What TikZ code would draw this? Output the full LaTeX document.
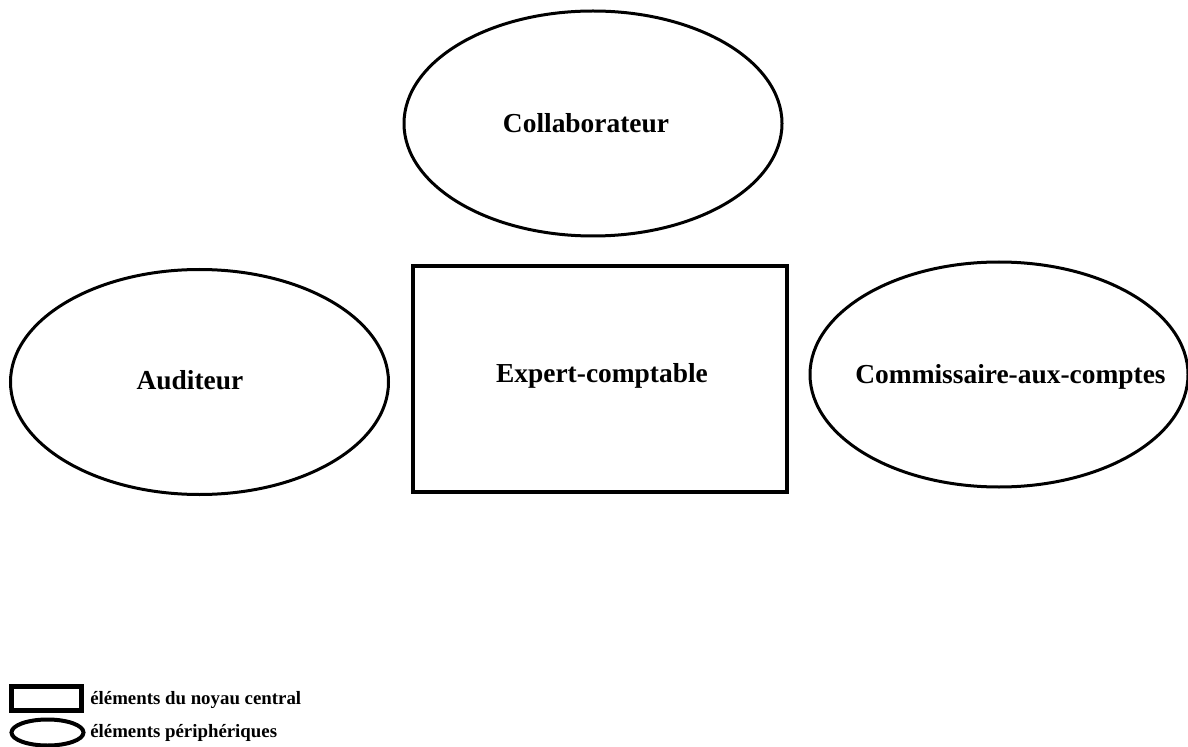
\documentclass[tikz,border=0pt]{standalone}
\usepackage{fontspec}
\setmainfont{Liberation Serif}
\usetikzlibrary{shapes,positioning}
\newlength{\px}
\setlength{\px}{0.025cm}
\tikzstyle{big}=[font=\fontsize{19.5}{23}\selectfont\bfseries,anchor=base,inner sep=0pt]
\tikzstyle{small}=[font=\fontsize{13.4}{15}\selectfont\bfseries,anchor=base west,inner sep=0pt]
\tikzstyle{core}=[draw,rectangle,line width=4\px,inner sep=0pt,minimum width=374\px,minimum height=226\px]
\tikzstyle{periph}=[draw,ellipse,line width=3\px,inner sep=0pt,minimum width=378\px,minimum height=225\px]

\begin{document}
\begin{tikzpicture}[x=\px,y=-\px]
  \useasboundingbox (0,0) rectangle (1188,747);

  % noyau central
  \node[core] at (600,379) (expert) {};
  \node[big] at (602,382) (expertt) {Expert-comptable};

  % elements peripheriques
  \node[periph] at (593,123.5) (collab) {};
  \node[big] at (586,133) (collabt) {Collaborateur};

  \node[periph] at (199.5,382) (audit) {};
  \node[big] at (190,389) (auditt) {Auditeur};

  \node[periph] at (999,374.5) (cac) {};
  \node[big] at (1010.5,383) (cact) {Commissaire-aux-comptes};

  % legende
  \node[draw,rectangle,line width=5\px,inner sep=0pt,minimum width=70\px,minimum height=24\px] at (46.5,698.5) (keycore) {};
  \node[small] at (90,704) (keycoret) {éléments du noyau central};

  \node[draw,ellipse,line width=4\px,inner sep=0pt,minimum width=72\px,minimum height=26\px] at (47.5,732.5) (keyperiph) {};
  \node[small] at (90,737) (keyperipht) {éléments périphériques};

\end{tikzpicture}
\end{document}
